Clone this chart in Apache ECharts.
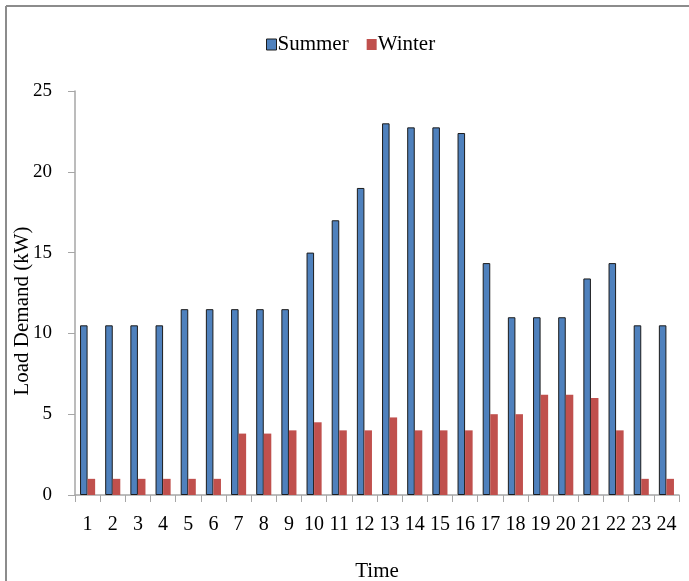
<!DOCTYPE html>
<html>
<head>
<meta charset="utf-8">
<script src="https://cdn.jsdelivr.net/npm/echarts@6/dist/echarts.min.js"></script>
<style>
  html, body { margin: 0; padding: 0; background: #fff; }
  #chart { width: 689px; height: 581px; }
</style>
</head>
<body>
<div id="chart"></div>
<script>
// Hourly load demand (kW), summer vs winter
const hours = ['1','2','3','4','5','6','7','8','9','10','11','12','13','14','15','16','17','18','19','20','21','22','23','24'];
const summerLoad = [10.5, 10.5, 10.5, 10.5, 11.5, 11.5, 11.5, 11.5, 11.5, 15, 17, 19, 23, 22.75, 22.75, 22.4, 14.35, 11, 11, 11, 13.4, 14.35, 10.5, 10.5];
const winterLoad = [1, 1, 1, 1, 1, 1, 3.8, 3.8, 4, 4.5, 4, 4, 4.8, 4, 4, 4, 5, 5, 6.2, 6.2, 6, 4, 1, 1];
const yTicks = [0, 5, 10, 15, 20, 25];

const serif = '"Liberation Serif", "Times New Roman", serif';
const axisGray = '#a6a6a6';

const chart = echarts.init(document.getElementById('chart'));
chart.setOption({
  backgroundColor: '#fff',
  animation: false,
  textStyle: { fontFamily: serif, color: '#000' },
  graphic: [
    { type: 'line', shape: { x1: 6, y1: 6, x2: 689, y2: 6 }, style: { stroke: '#8c8c8c', lineWidth: 2 } },
    { type: 'line', shape: { x1: 6, y1: 6, x2: 6, y2: 581 }, style: { stroke: '#8c8c8c', lineWidth: 2 } }
  ],
  legend: {
    top: 29,
    left: 261,
    icon: 'rect',
    itemWidth: 10,
    itemHeight: 11,
    itemGap: 18,
    textStyle: { fontFamily: serif, fontSize: 21, color: '#000', padding: [0, 0, 0, -4] },
    data: [
      { name: 'Summer', itemStyle: { borderColor: '#1c1c1c', borderWidth: 1 } },
      { name: 'Winter' }
    ]
  },
  grid: { left: 75, right: 10, top: 91, bottom: 86, containLabel: false, outerBoundsMode: 'none' },
  xAxis: {
    type: 'category',
    data: hours,
    name: 'Time',
    nameLocation: 'middle',
    nameGap: 66,
    nameMoveOverlap: false,
    nameTextStyle: { fontFamily: serif, fontSize: 21, color: '#000' },
    axisLine: { lineStyle: { color: axisGray, width: 1.5 } },
    axisTick: { show: true, length: 7, lineStyle: { color: axisGray } },
    axisLabel: { fontFamily: serif, fontSize: 20, color: '#000', margin: 20, interval: 0 },
    splitLine: { show: false }
  },
  yAxis: {
    type: 'value',
    min: yTicks[0],
    max: yTicks[yTicks.length - 1],
    interval: 5,
    name: 'Load Demand (kW)',
    nameLocation: 'middle',
    nameGap: 42,
    nameRotate: 90,
    nameMoveOverlap: false,
    nameTextStyle: { fontFamily: serif, fontSize: 21, color: '#000', padding: [0, 36, 0, 0] },
    axisLine: { show: true, lineStyle: { color: axisGray, width: 1.5 } },
    axisTick: { show: true, length: 7, lineStyle: { color: axisGray } },
    axisLabel: { fontFamily: serif, fontSize: 19, color: '#000', margin: 23 },
    splitLine: { show: false }
  },
  series: [
    {
      name: 'Summer',
      type: 'bar',
      data: summerLoad,
      barGap: '0%',
      barCategoryGap: '40%',
      itemStyle: { color: '#4f81bd', borderColor: '#1c1c1c', borderWidth: 1 }
    },
    {
      name: 'Winter',
      type: 'bar',
      data: winterLoad,
      itemStyle: { color: '#c0504d' }
    }
  ]
});
</script>
</body>
</html>
